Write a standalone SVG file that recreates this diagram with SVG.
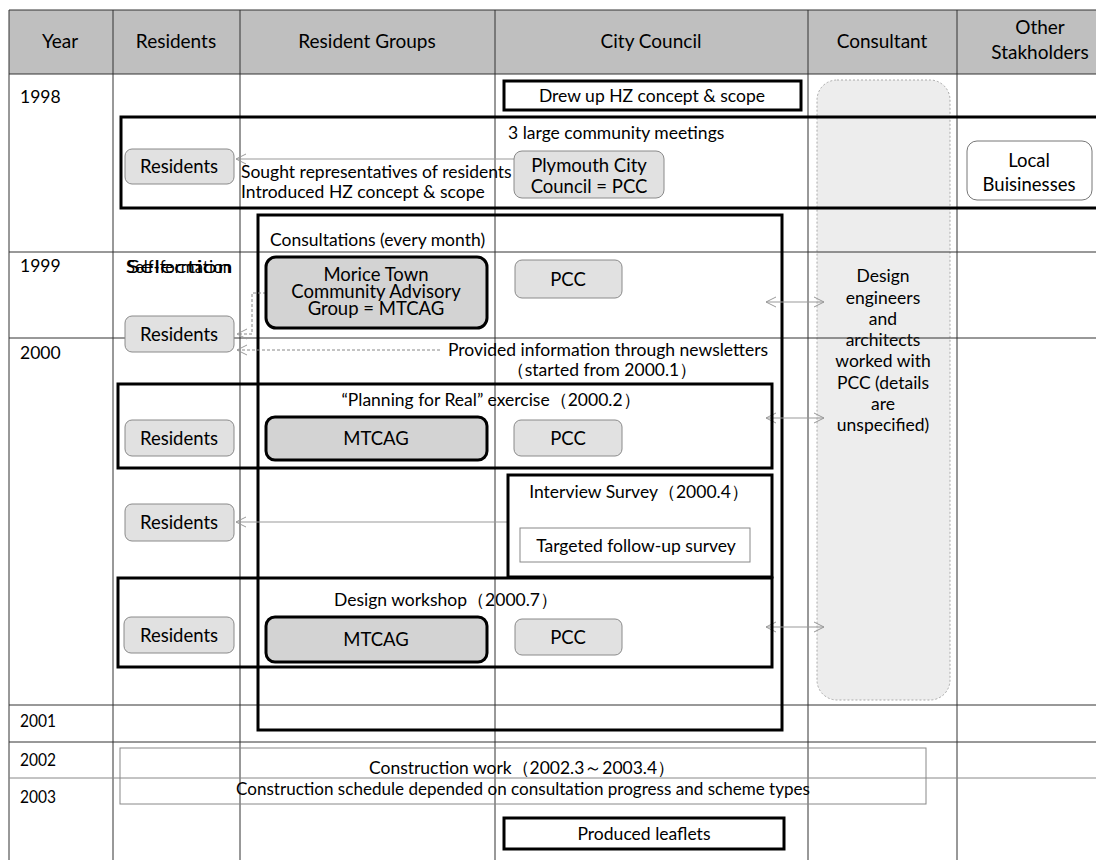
<svg xmlns="http://www.w3.org/2000/svg" width="1096" height="860" viewBox="0 0 1096 860">
<style>
text{font-family:Lato,"Liberation Sans",sans-serif;font-size:17.5px;fill:#000}
.c{text-anchor:middle}
.h{font-size:19px}
.n{font-size:18.5px}
.grid{stroke:#333;stroke-width:1;fill:none}
.frame{fill:none;stroke:#000;stroke-width:3}
.node{fill:#e1e1e1;stroke:#8a8a8a;stroke-width:1}
.grp{fill:#d3d3d3;stroke:#000;stroke-width:3}
.conn{stroke:#999;stroke-width:1;fill:none}
.dash{stroke:#888;stroke-width:1;fill:none;stroke-dasharray:3,2}
</style>
<defs>
<marker id="ah" viewBox="0 0 12 12" refX="11" refY="6" markerWidth="12" markerHeight="12" markerUnits="userSpaceOnUse" orient="auto-start-reverse">
<path d="M1,1 L11,6 L1,11" fill="none" stroke="#999" stroke-width="1"/>
</marker>
</defs>
<rect x="0" y="0" width="1096" height="860" fill="#fff"/>
<rect x="9" y="10" width="1100" height="64" fill="#bfbfbf"/>
<g id="consultant-band">
<rect x="817" y="80" width="133" height="620" rx="20" fill="#ededed" stroke="#aaa" stroke-dasharray="2,2"/>
<text class="c" x="883" y="282">Design</text>
<text class="c" x="883" y="304">engineers</text>
<text class="c" x="883" y="325">and</text>
<text class="c" x="883" y="346">architects</text>
<text class="c" x="883" y="367">worked with</text>
<text class="c" x="883" y="389">PCC  (details</text>
<text class="c" x="883" y="410">are</text>
<text class="c" x="883" y="431">unspecified)</text>
</g>
<g id="grid">
<path class="grid" d="M9,10V860M113,10V860M240,10V860M495,10V860M808,10V860M957,10V860M9,10H1096M9,74H1096M9,252H1096M9,338H1096M9,705H1096M9,742H1096"/>
<path d="M9,778H1096" stroke="#888" stroke-width="1"/>
</g>
<g id="headers">
<text class="c h" x="60" y="48">Year</text>
<text class="c h" x="176" y="48">Residents</text>
<text class="c h" x="367" y="48">Resident Groups</text>
<text class="c h" x="651" y="48">City Council</text>
<text class="c h" x="882" y="48">Consultant</text>
<text class="c h" x="1040" y="34">Other</text>
<text class="c h" x="1040" y="59">Stakholders</text>
</g>
<g id="years">
<text x="20" y="103">1998</text>
<text x="20" y="272">1999</text>
<text x="20" y="359">2000</text>
<text x="20" y="727" font-size="18" textLength="36" lengthAdjust="spacingAndGlyphs">2001</text>
<text x="20" y="766" font-size="18" textLength="36" lengthAdjust="spacingAndGlyphs">2002</text>
<text x="20" y="803" font-size="18" textLength="36" lengthAdjust="spacingAndGlyphs">2003</text>
</g>
<g id="drew-up">
<rect class="frame" x="504" y="81" width="297" height="29"/>
<text class="c" x="652" y="102">Drew up HZ concept &amp; scope</text>
</g>
<g id="community-meetings">
<rect class="frame" x="121" y="117" width="990" height="91"/>
<text x="508" y="139">3 large community meetings</text>
</g>
<g id="consultations">
<rect class="frame" x="258" y="215" width="524" height="515"/>
<text x="270" y="246">Consultations (every month)</text>
</g>
<g id="connectors">
<path class="conn" d="M515,159H236" marker-end="url(#ah)"/>
<path class="dash" d="M266,293H252V334H237" marker-end="url(#ah)"/>
<path class="dash" d="M440,350H237" marker-end="url(#ah)"/>
<path class="conn" d="M766,302H824" marker-start="url(#ah)" marker-end="url(#ah)"/>
<path class="conn" d="M766,418H824" marker-start="url(#ah)" marker-end="url(#ah)"/>
<path class="conn" d="M508,522H236" marker-end="url(#ah)"/>
<path class="conn" d="M766,627H824" marker-start="url(#ah)" marker-end="url(#ah)"/>
</g>
<g id="labels">
<text x="241" y="178">Sought representatives of residents</text>
<text x="241" y="198">Introduced HZ concept &amp; scope</text>
<text x="448" y="356">Provided information through newsletters</text>
<text class="c" x="602" y="376">（started from 2000.1）</text>
<text x="126" y="273" font-size="13" textLength="106" lengthAdjust="spacingAndGlyphs">Self-formation</text>
<text x="126" y="273" font-size="13" textLength="106" lengthAdjust="spacingAndGlyphs">Selection</text>
</g>
<g id="residents-1998">
<rect class="node" x="125" y="149" width="109" height="35" rx="7"/>
<text class="c n" x="179" y="173">Residents</text>
</g>
<g id="pcc-1998">
<rect class="node" x="514" y="151" width="150" height="47" rx="8"/>
<text class="c n" x="589" y="172">Plymouth City</text>
<text class="c n" x="589" y="193">Council = PCC</text>
</g>
<g id="local-businesses">
<rect x="967" y="141" width="125" height="59" rx="10" fill="#fff" stroke="#777"/>
<text class="c n" x="1029" y="167">Local</text>
<text class="c n" x="1029" y="191">Buisinesses</text>
</g>
<g id="mtcag-1999">
<rect class="grp" x="266" y="257" width="221" height="71" rx="10"/>
<text class="c n" x="376" y="281">Morice Town</text>
<text class="c n" x="376" y="298">Community Advisory</text>
<text class="c n" x="376" y="315">Group = MTCAG</text>
</g>
<g id="pcc-1999">
<rect class="node" x="515" y="260" width="107" height="38" rx="7"/>
<text class="c n" x="568" y="286">PCC</text>
</g>
<g id="residents-1999">
<rect class="node" x="125" y="316" width="109" height="36" rx="7"/>
<text class="c n" x="179" y="341">Residents</text>
</g>
<g id="planning-for-real">
<rect class="frame" x="118" y="384" width="654" height="84"/>
<text class="c" x="491" y="406">“Planning for Real” exercise（2000.2）</text>
<rect class="node" x="125" y="420" width="109" height="36" rx="7"/>
<text class="c n" x="179" y="445">Residents</text>
<rect class="grp" x="266" y="417" width="221" height="43" rx="9"/>
<text class="c n" x="376" y="445">MTCAG</text>
<rect class="node" x="514" y="420" width="108" height="36" rx="7"/>
<text class="c n" x="568" y="445">PCC</text>
</g>
<g id="interview-survey">
<rect class="frame" x="508" y="475" width="264" height="102"/>
<text class="c" x="639" y="498">Interview Survey（2000.4）</text>
<rect x="520" y="528" width="230" height="34" fill="#fff" stroke="#888"/>
<text class="c" x="636" y="552">Targeted follow-up survey</text>
</g>
<g id="residents-2000-4">
<rect class="node" x="125" y="504" width="109" height="37" rx="7"/>
<text class="c n" x="179" y="529">Residents</text>
</g>
<g id="design-workshop">
<rect class="frame" x="118" y="578" width="654" height="89"/>
<text class="c" x="446" y="606">Design workshop（2000.7）</text>
<rect class="node" x="124" y="617" width="110" height="36" rx="7"/>
<text class="c n" x="179" y="642">Residents</text>
<rect class="grp" x="266" y="617" width="221" height="45" rx="9"/>
<text class="c n" x="376" y="646">MTCAG</text>
<rect class="node" x="515" y="619" width="107" height="36" rx="7"/>
<text class="c n" x="568" y="644">PCC</text>
</g>
<g id="construction">
<rect x="120" y="748" width="806" height="56" fill="none" stroke="#888"/>
<text class="c" x="522" y="774" font-size="18" textLength="306" lengthAdjust="spacingAndGlyphs">Construction work（2002.3～2003.4）</text>
<text class="c" x="523" y="795" font-size="18" textLength="574" lengthAdjust="spacingAndGlyphs">Construction schedule depended on consultation progress and scheme types</text>
</g>
<g id="leaflets">
<rect class="frame" x="504" y="818" width="280" height="31"/>
<text class="c" x="644" y="840" font-size="18" textLength="133" lengthAdjust="spacingAndGlyphs">Produced leaflets</text>
</g>
</svg>
